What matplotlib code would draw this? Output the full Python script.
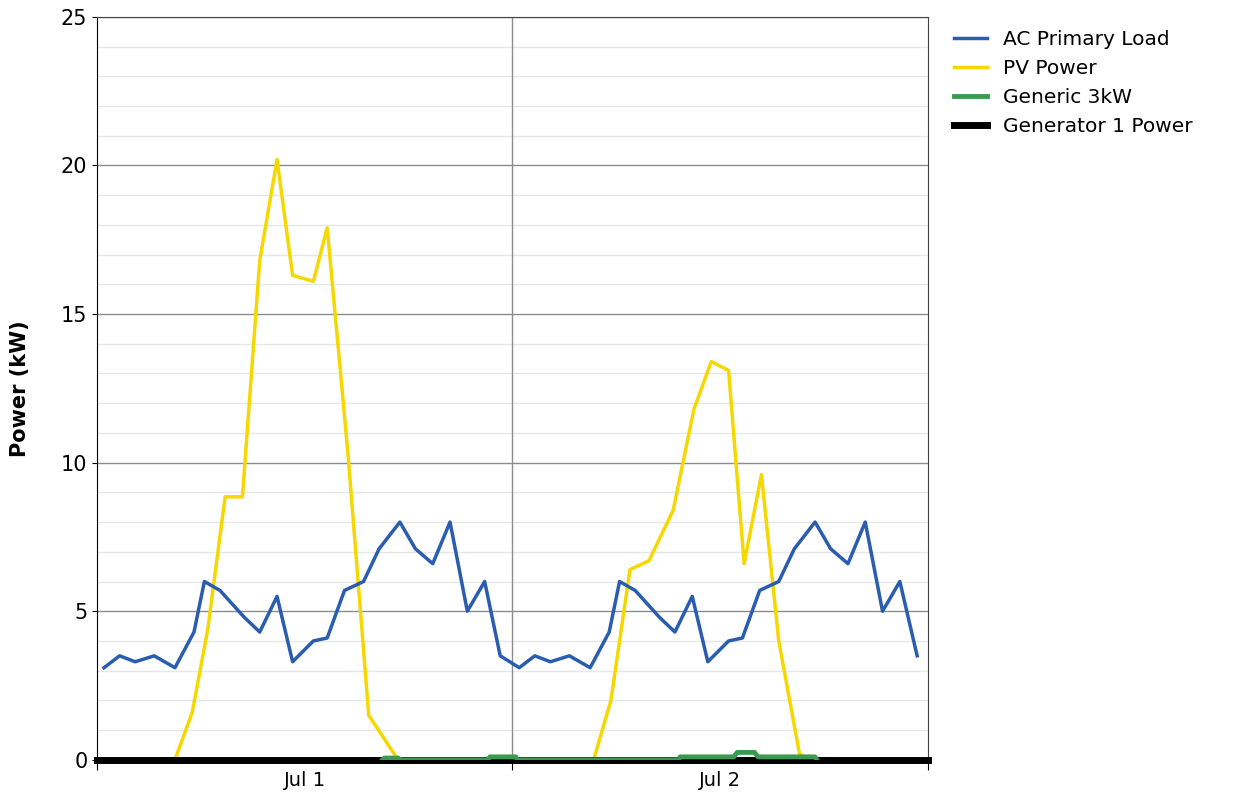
import matplotlib.pyplot as plt
import numpy as np

load_hours = [0.4,1.3,2.2,3.3,4.5,5.6,6.2,7.1,8.5,9.4,10.4,11.3,12.5,13.3,14.3,15.4,16.3,17.5,18.4,19.4,20.4,21.4,22.4,23.3,24.4,25.3,26.2,27.3,28.5,29.6,30.2,31.1,32.5,33.4,34.4,35.3,36.5,37.3,38.3,39.4,40.3,41.5,42.4,43.4,44.4,45.4,46.4,47.4]
load_vals = [3.1,3.5,3.3,3.5,3.1,4.3,6.0,5.7,4.8,4.3,5.5,3.3,4.0,4.1,5.7,6.0,7.1,8.0,7.1,6.6,8.0,5.0,6.0,3.5,3.1,3.5,3.3,3.5,3.1,4.3,6.0,5.7,4.8,4.3,5.5,3.3,4.0,4.1,5.7,6.0,7.1,8.0,7.1,6.6,8.0,5.0,6.0,3.5]

pv_hours = [0,4.5,5.5,6.4,7.4,8.4,9.4,10.4,11.3,12.5,13.3,14.5,15.7,17.4,
            24.0,28.7,29.7,30.8,31.9,33.3,34.5,35.5,36.5,37.4,38.4,39.4,40.6,41.2,48]
pv_vals = [0,0,1.6,4.4,8.85,8.85,16.8,20.2,16.3,16.1,17.9,10.3,1.5,0,
           0,0,2.0,6.4,6.7,8.4,11.8,13.4,13.1,6.6,9.6,4.0,0.2,0,0]

gen_hours = [16.5,16.6,17.4,17.5,22.6,22.7,24.2,24.3,33.6,33.7,36.8,37.0,38.0,38.2,41.5,41.6]
gen_vals = [0,0.06,0.06,0,0,0.1,0.1,0,0,0.1,0.1,0.25,0.25,0.1,0.1,0]

dg_hours = [0,48]
dg_vals = [0,0]

fig = plt.figure(figsize=(12.45,7.99), dpi=100)
ax = fig.add_axes([0.078,0.049,0.667,0.93])
ax.set_xlim(0,48)
ax.set_ylim(0,25)
ax.set_yticks(np.arange(1,25,1), minor=True)
ax.set_yticks([0,5,10,15,20,25])
ax.grid(which='minor', axis='y', color='#e6e6e6', lw=1)
ax.grid(which='major', axis='y', color='#8c8c8c', lw=1)
ax.axvline(24, color='#8c8c8c', lw=1)
ax.set_axisbelow(True)

ax.plot(pv_hours, pv_vals, color='#f5d800', lw=2.5, label='PV Power', zorder=4)
ax.plot(dg_hours, dg_vals, color='black', lw=5, label='Generator 1 Power', zorder=5, clip_on=False)
ax.plot(gen_hours, gen_vals, color='#3a9a50', lw=3.5, label='Generic 3kW', zorder=6)
ax.plot(load_hours, load_vals, color='#2a5db0', lw=2.5, label='AC Primary Load', zorder=7)

ax.set_xticks([0,24,48])
ax.set_xticklabels(['','',''])
ax.set_xticks([12,36], minor=True)
ax.set_xticklabels(['Jul 1','Jul 2'], minor=True)
ax.tick_params(axis='x', which='minor', length=0, labelsize=14, pad=8)
ax.tick_params(axis='x', which='major', length=7)
ax.tick_params(axis='y', which='minor', length=0)
ax.tick_params(axis='y', which='major', labelsize=15)
ax.set_ylabel('Power (kW)', fontsize=15, fontweight='bold', labelpad=22)
for s in ['top','right']:
    ax.spines[s].set_color('#444444')

h, l = ax.get_legend_handles_labels()
order = [3,0,2,1]
fig.legend([h[i] for i in order], [l[i] for i in order], loc='upper left',
           bbox_to_anchor=(0.752,0.985), frameon=False, fontsize=14.5, handlelength=1.6)
fig.savefig('out.png', dpi=100)
